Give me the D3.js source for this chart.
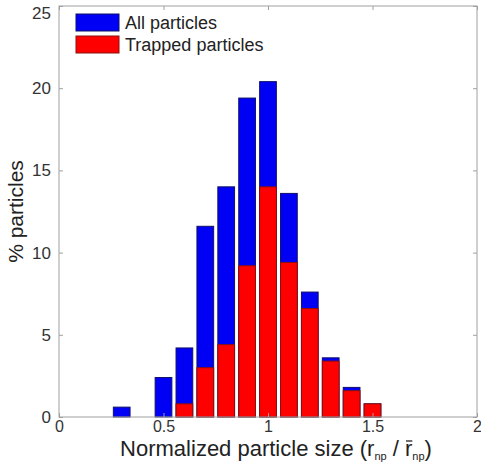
<!DOCTYPE html>
<html>
<head>
<meta charset="utf-8">
<script src="https://cdn.jsdelivr.net/npm/d3@7/dist/d3.min.js"></script>
<style>
  body { margin: 0; background: #fff; }
  text { font-family: "Liberation Sans", Arial, sans-serif; }
</style>
</head>
<body>
<div id="graph"></div>
<script>
var sizes = [0.3, 0.5, 0.6, 0.7, 0.8, 0.9, 1.0, 1.1, 1.2, 1.3, 1.4, 1.5];
var allParticles = [0.6, 2.4, 4.2, 11.6, 14.0, 19.4, 20.4, 13.6, 7.6, 3.6, 1.8, 0.8];
var trappedParticles = [0, 0, 0.8, 3.0, 4.4, 9.2, 14.0, 9.4, 6.6, 3.4, 1.6, 0.8];
var xTicks = [0, 0.5, 1, 1.5, 2];
var yTicks = [0, 5, 10, 15, 20, 25];

var width = 481,
    height = 462,
    margin = {left: 59, right: 4, top: 6, bottom: 45},
    svg = d3.select('#graph')
        .append('svg')
        .attr('width', width)
        .attr('height', height);

var x = d3.scaleLinear().domain([0, 2]).range([margin.left, width - margin.right]),
    y = d3.scaleLinear().domain([0, 25]).range([height - margin.bottom, margin.top]);

var barW = x(0.08) - x(0);

function drawBars(values, fill, stroke) {
    svg.append('g').selectAll('rect')
        .data(values.map(function (v, i) { return {s: sizes[i], v: v}; })
            .filter(function (d) { return d.v > 0; }))
        .enter()
        .append('rect')
        .attr('x', function (d) { return x(d.s) - barW / 2; })
        .attr('y', function (d) { return y(d.v); })
        .attr('width', barW)
        .attr('height', function (d) { return y(0) - y(d.v); })
        .attr('fill', fill)
        .attr('stroke', stroke)
        .attr('stroke-width', 1);
}

drawBars(allParticles, '#0000f5', '#10106a');
drawBars(trappedParticles, '#ff0000', '#8a1010');

// axes box
var axisColor = '#a0a0a0';
svg.append('rect')
    .attr('x', x(0)).attr('y', y(25))
    .attr('width', x(2) - x(0)).attr('height', y(0) - y(25))
    .attr('fill', 'none').attr('stroke', axisColor).attr('stroke-width', 1);

var axBottom = svg.append('g')
    .attr('transform', 'translate(0,' + y(0) + ')')
    .call(d3.axisBottom(x).tickValues(xTicks).tickSizeInner(-4).tickSizeOuter(0)
        .tickPadding(4).tickFormat(d3.format('')));
var axTop = svg.append('g')
    .attr('transform', 'translate(0,' + y(25) + ')')
    .call(d3.axisTop(x).tickValues(xTicks).tickSizeInner(-4).tickSizeOuter(0).tickFormat(''));
var axLeft = svg.append('g')
    .attr('transform', 'translate(' + x(0) + ',0)')
    .call(d3.axisLeft(y).tickValues(yTicks).tickSizeInner(-4).tickSizeOuter(0).tickPadding(8));
var axRight = svg.append('g')
    .attr('transform', 'translate(' + x(2) + ',0)')
    .call(d3.axisRight(y).tickValues(yTicks).tickSizeInner(-4).tickSizeOuter(0).tickFormat(''));

[axBottom, axTop, axLeft, axRight].forEach(function (g) {
    g.select('.domain').remove();
    g.selectAll('line').attr('stroke', axisColor);
    g.selectAll('text').attr('fill', '#333').style('font-size', '17px')
        .style('font-family', '"Liberation Sans", Arial, sans-serif');
});
axBottom.selectAll('text').style('font-size', '16px');
axLeft.selectAll('text').filter(function (d) { return d === 25; }).attr('dy', '0.75em');

// axis titles
svg.append('text')
    .attr('transform', 'translate(23,' + ((y(0) + y(25)) / 2) + ') rotate(-90)')
    .attr('text-anchor', 'middle')
    .attr('fill', '#222')
    .style('font-size', '21px')
    .text('% particles');

var xl = svg.append('text')
    .attr('x', 276)
    .attr('y', 456)
    .attr('text-anchor', 'middle')
    .attr('fill', '#222')
    .style('font-size', '22px');
xl.append('tspan').text('Normalized particle size (r');
xl.append('tspan').attr('dy', 4).style('font-size', '11px').text('np');
xl.append('tspan').attr('dy', -4).text(' / ');
var rBar = xl.append('tspan').text('r');
xl.append('tspan').attr('dy', 4).style('font-size', '11px').text('np');
xl.append('tspan').attr('dy', -4).text(')');

// overline over the mean r
var bb = rBar.node().getBBox();
svg.append('line')
    .attr('x1', bb.x + 1).attr('x2', bb.x + bb.width)
    .attr('y1', 441).attr('y2', 441)
    .attr('stroke', '#222').attr('stroke-width', 1.3);

// legend
var legend = [
    {label: 'All particles', fill: '#0000f5', stroke: '#10106a'},
    {label: 'Trapped particles', fill: '#ff0000', stroke: '#8a1010'}
];
var lg = svg.append('g').selectAll('g')
    .data(legend)
    .enter()
    .append('g')
    .attr('transform', function (d, i) { return 'translate(76,' + (14 + i * 22) + ')'; });
lg.append('rect')
    .attr('width', 43).attr('height', 17)
    .attr('fill', function (d) { return d.fill; })
    .attr('stroke', function (d) { return d.stroke; });
lg.append('text')
    .attr('x', 49).attr('y', 14.5)
    .attr('fill', '#222')
    .style('font-size', '18px')
    .text(function (d) { return d.label; });
</script>
</body>
</html>
